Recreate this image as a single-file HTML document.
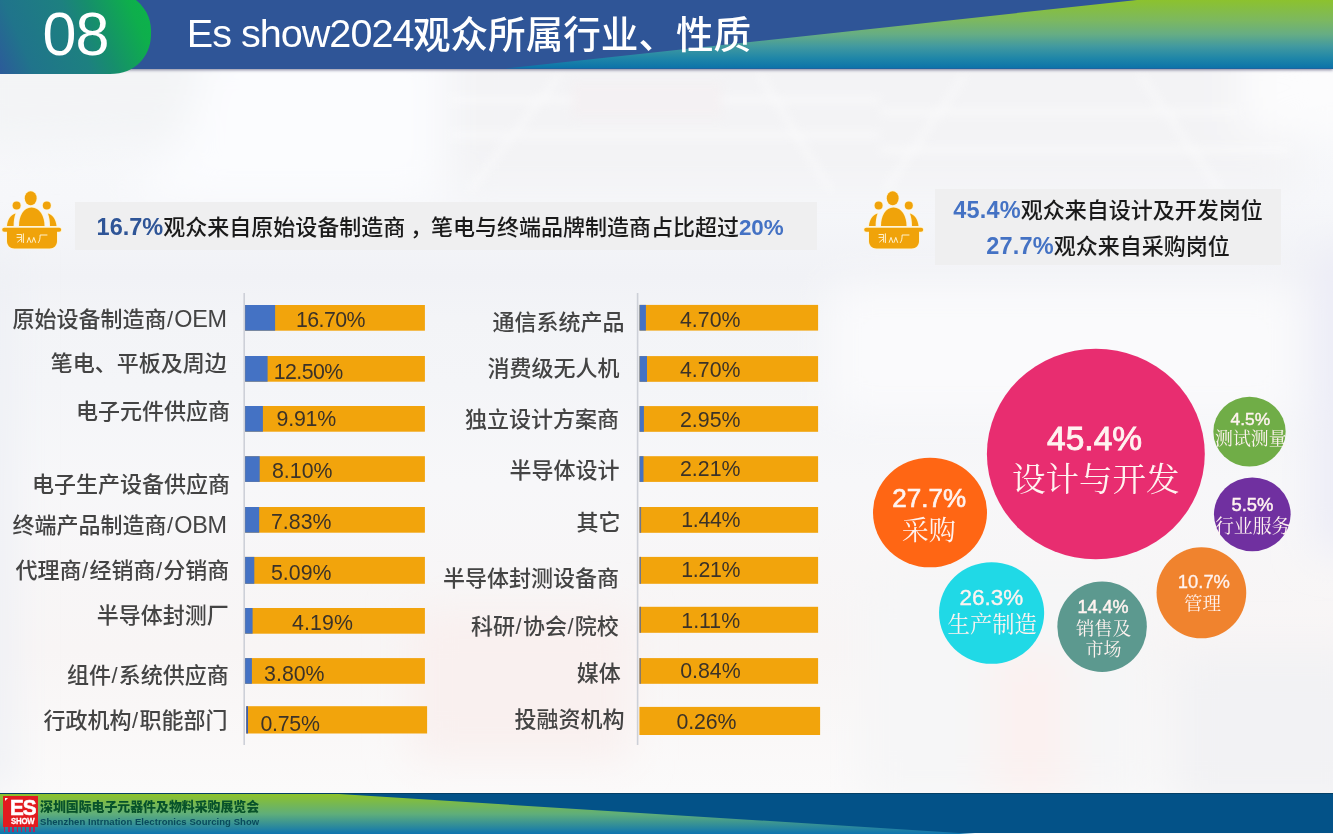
<!DOCTYPE html>
<html lang="zh-CN">
<head>
<meta charset="utf-8">
<title>Es show2024观众所属行业、性质</title>
<style>
html,body{margin:0;padding:0}
body{width:1333px;height:834px;overflow:hidden;position:relative;background:#F6F7F9;font-family:"Liberation Sans","Noto Sans CJK SC",sans-serif}
#bg{position:absolute;left:0;top:0;width:1333px;height:834px}
.abs{position:absolute}
#hdr{position:absolute;left:0;top:0;width:1333px;height:68.5px;background:#2F5597;box-shadow:0 1px 3px rgba(60,60,100,.65)}
#hdr svg{position:absolute;left:0;top:0}
#no{position:absolute;left:0;top:0;width:152px;height:74px;border-radius:0 0 60px 0}
#num08{position:absolute;left:42.5px;top:0;font-size:61px;line-height:68px;color:#fff;letter-spacing:-1px}
#title{position:absolute;left:186.8px;top:7.1px;font-size:37.6px;line-height:52px;color:#fff;white-space:nowrap}
#title .tl{font-size:39.6px;letter-spacing:-1px}
#title .tc{position:relative;top:1.3px;margin-left:-.5px;font-weight:500}
.hbox{position:absolute;background:#EFEFF0}
.htxt{position:absolute;white-space:nowrap;font-size:22px;line-height:34px;color:#1A1A1A;font-weight:500}
.htxt b{font-weight:bold}
.htxt b{letter-spacing:.2px;font-size:23.5px;line-height:22px}
.htxt b.d{color:#2F5597;letter-spacing:0}
.htxt b.l{color:#4472C4}
.axis{position:absolute;width:1.6px;background:#CDD0D8}
.lab{position:absolute;white-space:nowrap;font-size:22px;line-height:32px;color:#444;font-weight:500}
.lab .sl{margin:0 1.2px 0 .6px}
.lab .en{font-size:23.4px;letter-spacing:-.3px;margin-right:.3px;line-height:22px}
.bar{position:absolute;background:#F2A40C}
.bar i{position:absolute;left:0;top:0;height:100%;background:#4472C4}
.num{position:absolute;white-space:nowrap;font-size:21.33px;line-height:24px;color:#3B3228}
.bub{position:absolute;border-radius:50%}
.bp{position:absolute;width:200px;text-align:center;color:#FFF3F0;white-space:nowrap}
.bl{position:absolute;width:200px;text-align:center;color:#FFF3F0;white-space:nowrap;font-family:"Liberation Serif","Noto Serif CJK SC",serif}
.ico{position:absolute}
#ftr{position:absolute;left:0;top:793px;width:1333px;height:39.8px;background:#035288;border-top:1.4px solid #033F66;box-sizing:border-box}
#ftr svg{position:absolute;left:0;top:0}
#logo{position:absolute;left:3px;top:796px;width:35.3px;height:30.5px;background:#E21B1F}
#logo .e{position:absolute;left:6.8px;top:1px;font-size:22.5px;line-height:22px;font-weight:bold;color:#fff;letter-spacing:-1.2px;transform:scaleX(.92);transform-origin:0 0;-webkit-text-stroke:.6px #fff}
#logo .s{position:absolute;left:8.2px;top:20.4px;font-size:9.4px;line-height:10px;font-weight:bold;color:#fff;letter-spacing:-.2px;-webkit-text-stroke:.3px #fff;transform:scaleX(.83);transform-origin:0 0}
#logo i{position:absolute;left:2px;top:2px;width:0;height:0;border-top:3.2px solid #fff;border-right:3.2px solid transparent}
#ldots{position:absolute;left:4px;top:827.4px;width:34px;height:4.4px;background:repeating-linear-gradient(90deg,#B8205A 0 1.4px,transparent 1.4px 4.2px)}
#fcn{position:absolute;left:40px;top:797.6px;font-size:12.9px;line-height:18px;font-weight:900;color:#07522A;white-space:nowrap}
#fen{position:absolute;left:40px;top:816.2px;font-size:9.5px;line-height:12px;font-weight:bold;color:#084A5C;white-space:nowrap;letter-spacing:.05px}
</style>
</head>
<body>
<svg id="bg" width="1333" height="834" viewBox="0 0 1333 834">
<defs>
<linearGradient id="bgv" gradientUnits="userSpaceOnUse" x1="0" y1="0" x2="0" y2="834">
<stop offset="0.08" stop-color="#F8F9FB"/><stop offset="0.24" stop-color="#F6F7FA"/><stop offset="0.33" stop-color="#F1F2F6"/><stop offset="0.38" stop-color="#F3F4F7"/><stop offset="0.46" stop-color="#F4F5F8"/><stop offset="0.58" stop-color="#F7F7F9"/><stop offset="0.78" stop-color="#F8F5F5"/><stop offset="0.95" stop-color="#FBFAFA"/>
</linearGradient>
<filter id="bl" x="-20%" y="-20%" width="140%" height="140%"><feGaussianBlur stdDeviation="20"/></filter>
<filter id="bs" x="-20%" y="-20%" width="140%" height="140%"><feGaussianBlur stdDeviation="5"/></filter>
</defs>
<rect width="1333" height="834" fill="url(#bgv)"/>
<g filter="url(#bl)">
<path d="M-40 40 L210 40 L190 140 L-40 150 Z" fill="#F3F4F6"/>
<path d="M210 40 L440 40 L440 200 L120 200 L180 150 Z" fill="#FBFCFE"/>
<rect x="450" y="30" width="850" height="160" fill="#F3F3F5"/>
<rect x="1240" y="40" width="130" height="95" fill="#FCFCFD"/>
<rect x="830" y="285" width="470" height="130" fill="#FAFAFC"/>
<rect x="1315" y="250" width="60" height="300" fill="#ECECF7"/>
<rect x="860" y="570" width="290" height="230" fill="#F6F6F7"/>
<rect x="1170" y="650" width="200" height="160" fill="#F2F2F4"/>
<rect x="990" y="650" width="80" height="150" fill="#FBF1F0"/>
<rect x="410" y="610" width="220" height="150" fill="#F9F0EF"/>
<rect x="-30" y="250" width="42" height="540" fill="#EEF0F5"/>
</g>
<g filter="url(#bs)" opacity=".6">
<path d="M450 100 L880 100 M450 135 L880 135 M880 112 L1240 112 M880 150 L1290 150" stroke="#FFFFFF" stroke-width="5" fill="none"/>
<path d="M470 190 L560 75 M760 75 L830 190 M885 190 L965 75 M1140 75 L1220 190" stroke="#FFFFFF" stroke-width="4" fill="none"/>
<rect x="572" y="82" width="150" height="36" fill="#F5F0F2"/>
</g>
</svg>

<div id="hdr">
<svg width="1333" height="69" viewBox="0 0 1333 69">
<defs>
<linearGradient id="gw" x1="0" y1="0" x2="0" y2="1">
<stop offset="0" stop-color="#8CC22E"/><stop offset="0.3" stop-color="#7CB860"/><stop offset="0.5" stop-color="#66AD84"/><stop offset="0.68" stop-color="#4199A0"/><stop offset="0.85" stop-color="#1F86A8"/><stop offset="1" stop-color="#0B72A9"/>
</linearGradient>
</defs>
<path d="M505 68.5 L1137 0 L1333 0 L1333 68.5 Z" fill="url(#gw)"/>
</svg>
</div>
<svg class="abs" style="left:0;top:0" width="160" height="80" viewBox="0 0 160 80">
<defs>
<linearGradient id="g08" gradientUnits="userSpaceOnUse" x1="0" y1="75" x2="150" y2="10">
<stop offset="0" stop-color="#2C5A9A"/><stop offset="0.2" stop-color="#20748B"/><stop offset="0.52" stop-color="#1D8080"/><stop offset="0.66" stop-color="#168E6C"/><stop offset="0.9" stop-color="#0EAE4C"/><stop offset="1" stop-color="#0CB24A"/>
</linearGradient>
</defs>
<path d="M0 0 H136 C148 10 152 22 151 36 C150 56 136 74 110 74 H0 Z" fill="url(#g08)"/>
</svg>
<div id="num08">08</div>
<div id="title"><span class="tl">Es show2024</span><span class="tc">观众所属行业、性质</span></div>

<svg class="ico" style="left:0px;top:188px" width="64" height="62" viewBox="0 0 64 62">
<defs><g id="ic1">
<ellipse cx="30.7" cy="10.2" rx="5.9" ry="7"/>
<circle cx="16.6" cy="17.5" r="4"/>
<circle cx="46.8" cy="17.5" r="4"/>
<path d="M19 38 C19 28 23.5 19.5 31.5 19.5 C39.5 19.5 44.5 28 44.5 38 Z"/>
<path d="M7 38 C7.5 32 10.5 27 15.5 25.5 C14.2 29 13.6 33 13.6 38 Z"/>
<path d="M56.5 38 C56 32 53 27 48 25.5 C49.3 29 50 33 50 38 Z"/>
<rect x="2.2" y="39.7" width="59" height="4.1" rx="2.05"/>
<path d="M7 43 H57 V53 C57 57.5 54 60.5 49.5 60.5 H14.5 C10 60.5 7 57.5 7 53 Z"/>
</g></defs>
<use href="#ic1" fill="#FFF4D2" stroke="#FFF4D2" stroke-width="1.6" stroke-linejoin="round"/>
<use href="#ic1" fill="#F0A30A"/>
<g stroke="#FFF1CC" stroke-width="1" fill="none" stroke-linecap="round">
<path d="M17 46.5 h4.6 v7.5 M17 49.4 h4.6 M17.6 54 l3 -2.6 M23.4 45.8 v8.8"/>
<path d="M27.2 54.4 l1.8 -5 l1.8 5 M32 54.4 l1.8 -5 l1.8 5"/>
<path d="M38.4 54.6 c1.5 -2 1.7 -4.6 1.7 -7.6 h6.9"/>
</g>
</svg>
<div class="hbox" style="left:75px;top:202px;width:742px;height:47.5px"></div>
<div class="htxt" style="left:96.6px;top:211px"><b class="d">16.7%</b>观众来自原始设备制造商<span style="margin-left:5px;margin-right:-7.5px">，</span> 笔电与终端品牌制造商占比超过<b class="l" style="font-size:22.4px;letter-spacing:0">20%</b></div>

<svg class="ico" style="left:862.3px;top:188px" width="64" height="62" viewBox="0 0 64 62">
<defs><g id="ic2">
<ellipse cx="30.7" cy="10.2" rx="5.9" ry="7"/>
<circle cx="16.6" cy="17.5" r="4"/>
<circle cx="46.8" cy="17.5" r="4"/>
<path d="M19 38 C19 28 23.5 19.5 31.5 19.5 C39.5 19.5 44.5 28 44.5 38 Z"/>
<path d="M7 38 C7.5 32 10.5 27 15.5 25.5 C14.2 29 13.6 33 13.6 38 Z"/>
<path d="M56.5 38 C56 32 53 27 48 25.5 C49.3 29 50 33 50 38 Z"/>
<rect x="2.2" y="39.7" width="59" height="4.1" rx="2.05"/>
<path d="M7 43 H57 V53 C57 57.5 54 60.5 49.5 60.5 H14.5 C10 60.5 7 57.5 7 53 Z"/>
</g></defs>
<use href="#ic2" fill="#FFF4D2" stroke="#FFF4D2" stroke-width="1.6" stroke-linejoin="round"/>
<use href="#ic2" fill="#F0A30A"/>
<g stroke="#FFF1CC" stroke-width="1" fill="none" stroke-linecap="round">
<path d="M17 46.5 h4.6 v7.5 M17 49.4 h4.6 M17.6 54 l3 -2.6 M23.4 45.8 v8.8"/>
<path d="M27.2 54.4 l1.8 -5 l1.8 5 M32 54.4 l1.8 -5 l1.8 5"/>
<path d="M38.4 54.6 c1.5 -2 1.7 -4.6 1.7 -7.6 h6.9"/>
</g>
</svg>
<div class="hbox" style="left:935px;top:188.5px;width:346px;height:76px"></div>
<div class="htxt" style="left:935px;top:194.3px;width:346px;text-align:center"><b class="l">45.4%</b>观众来自设计及开发岗位</div>
<div class="htxt" style="left:935px;top:229.5px;width:346px;text-align:center"><b class="l">27.7%</b>观众来自采购岗位</div>

<svg class="abs" style="left:0;top:0" width="1333" height="834" viewBox="0 0 1333 834">
<rect x="243.4" y="293" width="1.6" height="452" fill="#CDD0D8"/>
<rect x="245.1" y="305" width="179.8" height="25.7" fill="#F2A40C"/>
<rect x="245.1" y="305" width="30.0" height="25.7" fill="#4472C4"/>
<rect x="245.1" y="356" width="179.8" height="25.7" fill="#F2A40C"/>
<rect x="245.1" y="356" width="22.5" height="25.7" fill="#4472C4"/>
<rect x="245.1" y="406" width="179.8" height="25.7" fill="#F2A40C"/>
<rect x="245.1" y="406" width="17.8" height="25.7" fill="#4472C4"/>
<rect x="245.1" y="456.2" width="179.8" height="25.7" fill="#F2A40C"/>
<rect x="245.1" y="456.2" width="14.6" height="25.7" fill="#4472C4"/>
<rect x="245.1" y="507" width="179.8" height="25.7" fill="#F2A40C"/>
<rect x="245.1" y="507" width="14.1" height="25.7" fill="#4472C4"/>
<rect x="245.1" y="556.9" width="179.8" height="26.9" fill="#F2A40C"/>
<rect x="245.1" y="556.9" width="9.2" height="26.9" fill="#4472C4"/>
<rect x="245.1" y="608" width="179.8" height="25.7" fill="#F2A40C"/>
<rect x="245.1" y="608" width="7.5" height="25.7" fill="#4472C4"/>
<rect x="245.1" y="658.1" width="179.8" height="25.7" fill="#F2A40C"/>
<rect x="245.1" y="658.1" width="6.8" height="25.7" fill="#4472C4"/>
<rect x="246.2" y="706.2" width="180.9" height="27.3" fill="#F2A40C"/>
<rect x="246.2" y="706.2" width="1.8" height="27.3" fill="#3F60B0"/>
</svg>
<div class="lab" style="right:1106.0px;top:303.5px">原始设备制造商<span class="sl">/</span><span class="en">OEM</span></div>
<div class="num" style="left:296px;top:307.5px;letter-spacing:-0.55px">16.70%</div>
<div class="lab" style="right:1106.3px;top:347.7px">笔电、平板及周边</div>
<div class="num" style="left:273.7px;top:359.5px;letter-spacing:-0.55px">12.50%</div>
<div class="lab" style="right:1103.0px;top:396.0px">电子元件供应商</div>
<div class="num" style="left:276.5px;top:406.5px;letter-spacing:-0.2px">9.91%</div>
<div class="lab" style="right:1103.0px;top:468.5px">电子生产设备供应商</div>
<div class="num" style="left:272px;top:458.5px">8.10%</div>
<div class="lab" style="right:1106.0px;top:510.0px">终端产品制造商<span class="sl">/</span><span class="en">OBM</span></div>
<div class="num" style="left:271px;top:509.9px">7.83%</div>
<div class="lab" style="right:1103.7px;top:555.0px">代理商<span class="sl">/</span>经销商<span class="sl">/</span>分销商</div>
<div class="num" style="left:271px;top:560.5px">5.09%</div>
<div class="lab" style="right:1104.2px;top:599.5px">半导体封测厂</div>
<div class="num" style="left:292px;top:611.4px;letter-spacing:0.15px">4.19%</div>
<div class="lab" style="right:1104.2px;top:659.5px">组件<span class="sl">/</span>系统供应商</div>
<div class="num" style="left:264.1px;top:662.2px">3.80%</div>
<div class="lab" style="right:1105.6px;top:704.9px">行政机构<span class="sl">/</span>职能部门</div>
<div class="num" style="left:260.4px;top:712.1px;letter-spacing:-0.25px">0.75%</div>
<svg class="abs" style="left:0;top:0" width="1333" height="834" viewBox="0 0 1333 834">
<rect x="636.8" y="293" width="1.6" height="452" fill="#CDD0D8"/>
<rect x="639.5" y="304.9" width="178.6" height="25.7" fill="#F2A40C"/>
<rect x="639.5" y="304.9" width="6.4" height="25.7" fill="#4472C4"/>
<rect x="639.5" y="356.1" width="178.6" height="25.7" fill="#F2A40C"/>
<rect x="639.5" y="356.1" width="7.5" height="25.7" fill="#4472C4"/>
<rect x="639.5" y="406.1" width="178.6" height="25.7" fill="#F2A40C"/>
<rect x="639.5" y="406.1" width="4.4" height="25.7" fill="#4472C4"/>
<rect x="639.5" y="456.2" width="178.6" height="25.7" fill="#F2A40C"/>
<rect x="639.5" y="456.2" width="4.0" height="25.7" fill="#4472C4"/>
<rect x="639.5" y="507" width="178.6" height="25.8" fill="#F2A40C"/>
<rect x="639.5" y="507" width="1.6" height="25.8" fill="#6F7690"/>
<rect x="639.5" y="556.9" width="178.6" height="26.9" fill="#F2A40C"/>
<rect x="639.5" y="556.9" width="1.5" height="26.9" fill="#6F7690"/>
<rect x="639.5" y="606.8" width="178.6" height="26" fill="#F2A40C"/>
<rect x="639.5" y="606.8" width="1.4" height="26" fill="#6F6F80"/>
<rect x="639.5" y="658.1" width="178.6" height="25.7" fill="#F2A40C"/>
<rect x="639.5" y="658.1" width="1.3" height="25.7" fill="#6F6F80"/>
<rect x="639.4" y="706.9" width="180.7" height="28.1" fill="#F2A40C"/>
</svg>
<div class="lab" style="right:708.5px;top:307.2px">通信系统产品</div>
<div class="num" style="left:680px;top:308.1px">4.70%</div>
<div class="lab" style="right:713.6px;top:353.2px">消费级无人机</div>
<div class="num" style="left:680px;top:357.9px">4.70%</div>
<div class="lab" style="right:714.1px;top:404.4px">独立设计方案商</div>
<div class="num" style="left:680px;top:407.5px">2.95%</div>
<div class="lab" style="right:713.5px;top:455.0px">半导体设计</div>
<div class="num" style="left:680px;top:457.4px">2.21%</div>
<div class="lab" style="right:712.5px;top:507.0px">其它</div>
<div class="num" style="left:681.3px;top:508.3px;letter-spacing:-0.35px">1.44%</div>
<div class="lab" style="right:714.1px;top:562.6px">半导体封测设备商</div>
<div class="num" style="left:681.3px;top:558.3px;letter-spacing:-0.35px">1.21%</div>
<div class="lab" style="right:714.2px;top:610.5px">科研<span class="sl">/</span>协会<span class="sl">/</span>院校</div>
<div class="num" style="left:681.3px;top:609.0px">1.11%</div>
<div class="lab" style="right:712.3px;top:658.0px">媒体</div>
<div class="num" style="left:680.2px;top:659.1px">0.84%</div>
<div class="lab" style="right:708.5px;top:704.2px">投融资机构</div>
<div class="num" style="left:676.5px;top:709.8px;letter-spacing:-0.15px">0.26%</div>

<svg class="abs" style="left:0;top:0" width="1333" height="834" viewBox="0 0 1333 834">
<ellipse cx="1095.85" cy="454" rx="108.95" ry="105.30" fill="#E82D70"/>
<ellipse cx="930" cy="512.5" rx="57.00" ry="54.80" fill="#FF6614"/>
<ellipse cx="991.6" cy="613" rx="52.55" ry="50.80" fill="#20D9E6"/>
<ellipse cx="1102.1" cy="626.7" rx="44.75" ry="45.30" fill="#5C998F"/>
<ellipse cx="1201.4" cy="592.8" rx="44.85" ry="45.55" fill="#F0832E"/>
<ellipse cx="1252.3" cy="514.3" rx="38.35" ry="36.90" fill="#7030A0"/>
<ellipse cx="1249.5" cy="431.7" rx="36.15" ry="34.85" fill="#70AD47"/>
</svg>
<div class="bp" style="left:994.6px;top:421.7px;font-size:33.5px;line-height:33.5px;font-weight:normal;-webkit-text-stroke:0.87px #FFF3F0">45.4%</div>
<div class="bl" style="left:995.7px;top:463.4px;font-size:33.5px;line-height:33.5px">设计与开发</div>
<div class="bp" style="left:829.2px;top:485.0px;font-size:26px;line-height:26px;font-weight:normal;-webkit-text-stroke:0.68px #FFF3F0">27.7%</div>
<div class="bl" style="left:828.8px;top:517.5px;font-size:27px;line-height:27px">采购</div>
<div class="bp" style="left:891.3px;top:586.6px;font-size:22.5px;line-height:22.5px;font-weight:normal;-webkit-text-stroke:0.36px #FFF3F0">26.3%</div>
<div class="bl" style="left:892.2px;top:614.0px;font-size:22.3px;line-height:22.3px">生产制造</div>
<div class="bp" style="left:1003.1px;top:597.9px;font-size:18px;line-height:18px;font-weight:normal;-webkit-text-stroke:0.47px #FFF3F0">14.4%</div>
<div class="bl" style="left:1003.5px;top:620.3px;font-size:18.4px;line-height:18.4px">销售及</div>
<div class="bl" style="left:1003.6px;top:640.6px;font-size:18px;line-height:18px">市场</div>
<div class="bp" style="left:1103.9px;top:572.5px;font-size:18.4px;line-height:18.4px;font-weight:normal;-webkit-text-stroke:0.29px #FFF3F0">10.7%</div>
<div class="bl" style="left:1102.5px;top:594.8px;font-size:18.5px;line-height:18.5px">管理</div>
<div class="bp" style="left:1152.5px;top:496.1px;font-size:18.4px;line-height:18.4px;font-weight:normal;-webkit-text-stroke:0.48px #FFF3F0">5.5%</div>
<div class="bl" style="left:1152.7px;top:517.8px;font-size:18.9px;line-height:18.9px">行业服务</div>
<div class="bp" style="left:1150.4px;top:411.4px;font-size:17.4px;line-height:17.4px;font-weight:normal;-webkit-text-stroke:0.45px #FFF3F0">4.5%</div>
<div class="bl" style="left:1150.8px;top:431.4px;font-size:17.9px;line-height:17.9px">测试测量</div>

<div id="ftr">
<svg width="1333" height="41" viewBox="0 0 1333 41">
<defs>
<linearGradient id="gf" x1="0" y1="0" x2="0" y2="1">
<stop offset="0" stop-color="#8DC22A"/><stop offset="0.5" stop-color="#5FAE7A"/><stop offset="1" stop-color="#0E74B0"/>
</linearGradient>
</defs>
<path d="M0 0 L339 0 L975 40 L0 40 Z" fill="url(#gf)"/>
</svg>
</div>
<div id="logo"><i></i><span class="e">ES</span><span class="s">SHOW</span></div>
<div id="ldots"></div>
<div id="fcn">深圳国际电子元器件及物料采购展览会</div>
<div id="fen">Shenzhen Intrnation Electronics Sourcing Show</div>
</body>
</html>
